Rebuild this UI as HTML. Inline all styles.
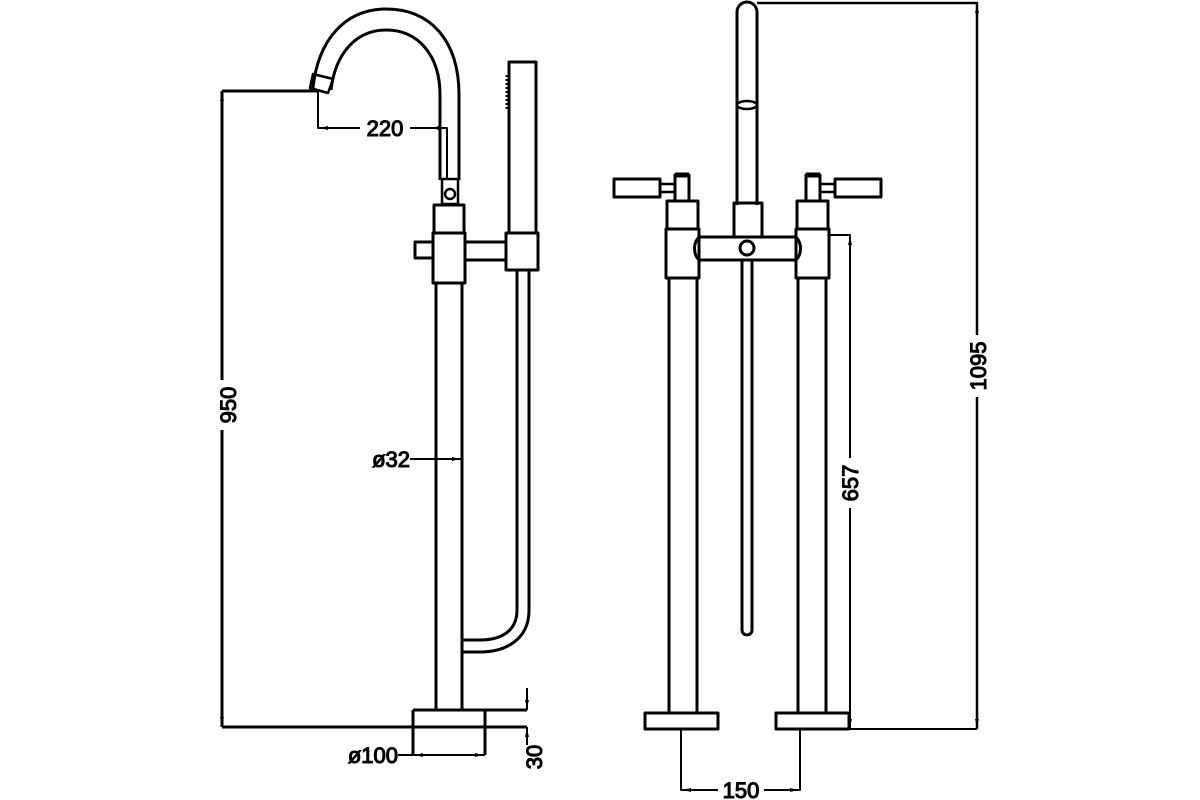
<!DOCTYPE html>
<html><head><meta charset="utf-8"><style>html,body{margin:0;padding:0;background:#fff}svg{display:block}</style></head>
<body>
<svg width="1200" height="800" viewBox="0 0 1200 800" xmlns="http://www.w3.org/2000/svg">
<g fill="none" stroke="#000" stroke-width="3" stroke-linejoin="round">
<path d="M222 91 H318 M222 91 V727 M222 727 H527 M413 710 H527"/>
<path d="M313 88 C318 40 345 9 386 9 C430 9 459 40 459 95 V180"/>
<path d="M331 90 C335 55 355 30 386 30 C418 30 440 55 440 95 V180"/>
<path d="M313 74 L333 79 L328 93 L310 88 Z" stroke-width="2.5"/>
<path d="M318 91 V128 H447 V180" stroke-width="2"/>
<rect x="442" y="179" width="16" height="25" stroke-width="2.5"/>
<circle cx="450" cy="194" r="5" stroke-width="2.5"/>
<rect x="434" y="205" width="30" height="28"/>
<rect x="433" y="233" width="32" height="50"/>
<path d="M433 242 H415 V258 H433"/>
<path d="M465 242 H506 M465 260 H506"/>
<rect x="506" y="233" width="32" height="37"/>
<rect x="509" y="62" width="27" height="171"/>
<path d="M507 75 V110" stroke-width="3" stroke-dasharray="2 2"/>
<path d="M436 283 V711 M462 283 V711"/>
<path d="M517 270 V610 C517 632 500 640 480 640 H463"/>
<path d="M529 270 V610 C529 640 505 652 480 652 H463"/>
<path d="M413 710 V755 M485 710 V755"/>
<path d="M398 755 H485" stroke-width="2"/>
<path d="M527 688 V710 M527 727 V745" stroke-width="2"/>
<path d="M410 459 H462" stroke-width="2"/>

<path d="M737 205 V12 A10 10 0 0 1 757 12 V205"/>
<ellipse cx="747" cy="105" rx="10" ry="4" stroke-width="2.5"/>
<rect x="734" y="203" width="28" height="34"/>
<path d="M699 237 H796 M699 260 H796 M699 237 C693 243 693 254 699 260 M796 237 C802 243 802 254 796 260"/>
<circle cx="747" cy="248" r="7"/>
<path d="M742 260 V630 A5 5 0 0 0 752 630 V260"/>
<rect x="667" y="201" width="31" height="28"/>
<rect x="666" y="229" width="33" height="49"/>
<rect x="675" y="175" width="14" height="26"/>
<path d="M675 175 H689" stroke-width="5"/>
<rect x="614" y="179" width="46" height="18"/>
<rect x="660" y="184" width="15" height="8" stroke-width="2.5"/>
<rect x="797" y="201" width="31" height="28"/>
<rect x="796" y="229" width="33" height="49"/>
<rect x="806" y="175" width="14" height="26"/>
<path d="M806 175 H820" stroke-width="5"/>
<rect x="835" y="179" width="46" height="18"/>
<rect x="820" y="184" width="15" height="8" stroke-width="2.5"/>
<path d="M669 278 V713 M697 278 V713 M798 278 V713 M826 278 V713"/>
<rect x="645" y="713" width="73" height="16"/>
<rect x="776" y="713" width="73" height="16"/>
<path d="M681 729 V790 H800 V729" stroke-width="2"/>
<path d="M829 235 H850 V729 M849 729 H977" stroke-width="2"/>
<path d="M757 3 H977 V729" stroke-width="2.5"/>
</g>
<g fill="#000">
<path d="M320 128 l8 -2 v4 z M445 128 l-8 -2 v4 z"/>
<path d="M222 93 l-2 8 h4 z M222 725 l-2 -8 h4 z"/>
<path d="M460 459 l-8 -2 v4 z M415 755 l8 -2 v4 z M483 755 l-8 -2 v4 z"/>
<path d="M527 708 l-2 -8 h4 z M527 729 l-2 8 h4 z"/>
<path d="M683 790 l8 -2 v4 z M798 790 l-8 -2 v4 z"/>
<path d="M850 237 l-2 8 h4 z M850 727 l-2 -8 h4 z M977 5 l-2 8 h4 z M977 727 l-2 -8 h4 z"/>
</g>
<g font-family="Liberation Sans, sans-serif" font-size="22" fill="#000" stroke="#000" stroke-width="1.1">
<rect x="360" y="116" width="50" height="24" fill="#fff" stroke="none"/>
<text x="385" y="136" text-anchor="middle">220</text>
<rect x="216" y="380" width="24" height="50" fill="#fff" stroke="none"/>
<text transform="translate(236 405) rotate(-90)" text-anchor="middle">950</text>
<text x="410" y="467" text-anchor="end">ø32</text>
<text x="398" y="763" text-anchor="end">ø100</text>
<text transform="translate(542 757) rotate(-90)" text-anchor="middle">30</text>
<rect x="718" y="778" width="46" height="24" fill="#fff" stroke="none"/>
<text x="741" y="798" text-anchor="middle">150</text>
<rect x="840" y="458" width="22" height="50" fill="#fff" stroke="none"/>
<text transform="translate(858 483) rotate(-90)" text-anchor="middle">657</text>
<rect x="968" y="335" width="22" height="62" fill="#fff" stroke="none"/>
<text transform="translate(986 366) rotate(-90)" text-anchor="middle">1095</text>
</g>
</svg>
</body></html>
